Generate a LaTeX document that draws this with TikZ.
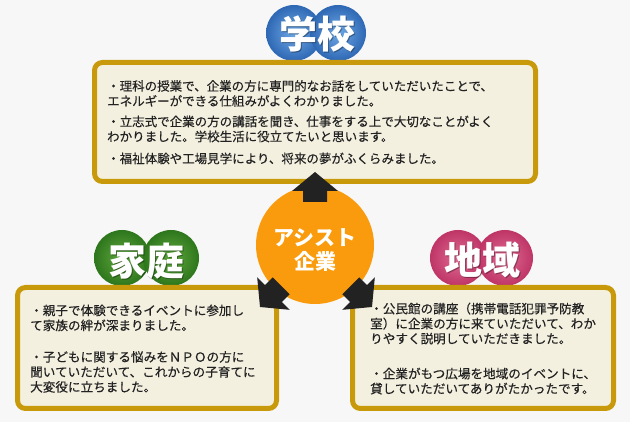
\documentclass[tikz,border=0pt]{standalone}
\usepackage{fontspec}
\setmainfont{Noto Sans CJK JP}
\newfontfamily\bodyfont[FakeBold=0.35]{Noto Sans CJK JP}
\definecolor{bg}{HTML}{F7F7F7}
\definecolor{boxborder}{HTML}{C8990A}
\definecolor{boxfill}{HTML}{F4F0E0}
\definecolor{bodytext}{HTML}{222222}
\definecolor{arrowblack}{HTML}{222222}
\definecolor{assistorange}{HTML}{F99B0C}
\definecolor{blueL}{HTML}{6FA8E6}
\definecolor{blueD}{HTML}{2E68B4}
\definecolor{greenL}{HTML}{5FA83E}
\definecolor{greenD}{HTML}{2E761C}
\definecolor{pinkL}{HTML}{E06A94}
\definecolor{pinkD}{HTML}{BE3566}
\begin{document}
\begin{tikzpicture}[x=1pt,y=-1pt,
  box/.style={draw=boxborder, line width=5pt, fill=boxfill, rounded corners=8pt, rectangle, inner sep=0pt},
  body/.style={anchor=north west, inner sep=0pt, align=left, text=bodytext, font=\bodyfont\fontsize{12.6}{15}\selectfont},
  lbl/.style={text=white, font=\fontsize{38}{40}\selectfont\bfseries, inner sep=0pt},
  lblshadow/.style={text=black, opacity=0.35, font=\fontsize{38}{40}\selectfont\bfseries, inner sep=0pt},
  blockarrow/.pic={\fill[arrowblack] (0,0) -- (23,19) -- (12,19) -- (12,30) -- (-12,30) -- (-12,19) -- (-23,19) -- cycle;}]
\useasboundingbox (0,0) rectangle (630,422);
\fill[bg] (0,0) rectangle (630,422);

% label bubbles
\shade[inner color=blueL, outer color=blueD] (294,33) circle (28);
\shade[inner color=blueL, outer color=blueD] (338,33) circle (28);
\shade[inner color=greenL, outer color=greenD] (122,258) circle (28);
\shade[inner color=greenL, outer color=greenD] (171,258) circle (28);
\shade[inner color=pinkL, outer color=pinkD] (458,258) circle (28);
\shade[inner color=pinkL, outer color=pinkD] (505,258) circle (28);
\node[lblshadow] at (318,35) {学校};
\node[lbl] (school) at (317,34) {学校};
\node[lblshadow] at (147,262) {家庭};
\node[lbl] (home) at (146,261) {家庭};
\node[lblshadow] at (483,261) {地域};
\node[lbl] (region) at (482,260) {地域};

% boxes
\node[box, minimum width=441pt, minimum height=119pt] (schoolbox) at (315,122) {};
\node[box, minimum width=259pt, minimum height=121pt] (homebox) at (147,348) {};
\node[box, minimum width=261pt, minimum height=121pt] (regionbox) at (483,348) {};

\node[body, font=\bodyfont\fontsize{12.5}{15}\selectfont] (schooltext) at (107,80) {・理科の授業で、企業の方に専門的なお話をしていただいたことで、\\エネルギーができる仕組みがよくわかりました。\\[5.5pt]・立志式で企業の方の講話を聞き、仕事をする上で大切なことがよく\\わかりました。学校生活に役立てたいと思います。\\[7pt]・福祉体験や工場見学により、将来の夢がふくらみました。};
\node[body] (hometext) at (30,304.4) {・親子で体験できるイベントに参加し\\て家族の絆が深まりました。\\[16.5pt]・子どもに関する悩みをＮＰＯの方に\\聞いていただいて、これからの子育てに\\大変役に立ちました。};
\node[body] (regiontext) at (370,302.4) {・公民館の講座（携帯電話犯罪予防教\\室）に企業の方に来ていただいて、わか\\りやすく説明していただきました。\\[20pt]・企業がもつ広場を地域のイベントに、\\貸していただいてありがたかったです。};

% centre
\node[circle, fill=assistorange, minimum size=118pt, inner sep=0pt] (assist) at (315,245) {};
\node[align=center, text=white, inner sep=0pt, font=\fontsize{21}{24}\selectfont\bfseries] (assisttext) at (315,250) {アシスト\\企業};

% arrows
\pic at (315,172) {blockarrow};
\pic[rotate=135] at (260,307) {blockarrow};
\pic[rotate=-135] at (372,307) {blockarrow};
\end{tikzpicture}
\end{document}
